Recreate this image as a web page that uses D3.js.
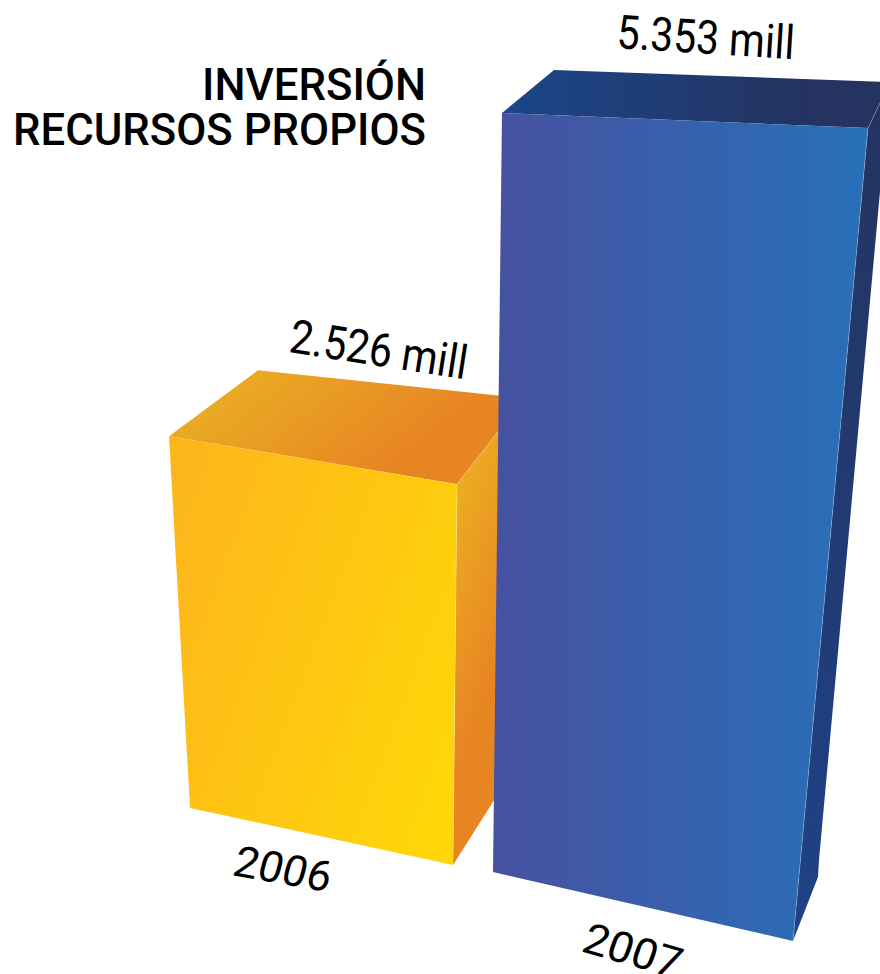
<!DOCTYPE html>
<html>
<head>
<meta charset="utf-8">
<script src="https://cdn.jsdelivr.net/npm/d3@7"></script>
<style>
body { margin: 0; background: #fff; }
svg { display: block; }
text { font-family: Roboto, sans-serif; fill: #000; }
</style>
</head>
<body>
<script>
var years = ["2006", "2007"];
var values = [2526, 5353];
var titleLines = ["INVERSIÓN", "RECURSOS PROPIOS"];

var width = 880, height = 974;

// how far a bar rises, as a share of the full rise in its frame
var rise = d3.scaleLinear().domain([0, 5353]).range([0, 1]);

var es = d3.formatLocale({ decimal: ",", thousands: ".", grouping: [3], currency: ["", ""] });
var fmt = es.format(",d");

// perspective frame of each bar, every bar has its own vanishing lines
var frames = [
    {
        baseL: [190, 808], baseR: [453, 865],
        fullL: [-44.5, -788], fullR: [8.5, -807],
        topDepthL: [89, -66], topDepthR: [67, -86],
        baseDepth: [62, -98], kink: [0, 0],
        front: ["#fdb71b", "#ffd608"], frontDir: [0, 0.25, 1, 0.8],
        top: ["#e9b024", "#e88523"], topDir: [0, 0.3, 0.72, 0.6],
        side: ["#ecb320", "#e88523"], sideDir: [0, 0.12, 0.25, 0.72],
        value: { x: 288, y: 352, angle: 8.8, len: 179, size: 47 },
        year: { x: 231, y: 875, angle: 10, skew: -5, len: 98, size: 43 }
    },
    {
        baseL: [493, 872], baseR: [793, 941],
        fullL: [9, -759], fullR: [75, -813],
        topDepthL: [52, -43], topDepthR: [22, -46],
        baseDepth: [25, -64], kink: [1, -17],
        front: ["#4751a0", "#2870b9"], frontDir: [0, 0, 1, 0],
        top: ["#1b4689", "#24335f"], topDir: [0, 0, 0.8, 0],
        side: ["#24335f", "#1e4287"], sideDir: [0, 0, 0, 1],
        value: { x: 616, y: 48, angle: 3.6, len: 178, size: 47 },
        year: { x: 580, y: 951, angle: 16, skew: -3, len: 100, size: 43 }
    }
];

var svg = d3.select("body").append("svg")
    .attr("width", width)
    .attr("height", height);

var defs = svg.append("defs");

function add(p, d) {
    return [p[0] + d[0], p[1] + d[1]];
}

function makeGradient(id, colors, dir) {
    var g = defs.append("linearGradient")
        .attr("id", id)
        .attr("x1", dir[0]).attr("y1", dir[1])
        .attr("x2", dir[2]).attr("y2", dir[3]);
    g.append("stop").attr("offset", 0).attr("stop-color", colors[0]);
    g.append("stop").attr("offset", 1).attr("stop-color", colors[1]);
}

var line = d3.line().curve(d3.curveLinearClosed);
var seam = d3.line();

function drawBar(i) {
    var f = frames[i];
    var t = rise(values[i]);

    // front corners
    var topL = add(f.baseL, [f.fullL[0] * t, f.fullL[1] * t]);
    var topR = add(f.baseR, [f.fullR[0] * t, f.fullR[1] * t]);
    // back corners
    var backL = add(topL, f.topDepthL);
    var backR = add(topR, f.topDepthR);
    var baseBack = add(f.baseR, f.baseDepth);
    var kink = add(baseBack, f.kink);

    makeGradient("front" + i, f.front, f.frontDir);
    makeGradient("top" + i, f.top, f.topDir);
    makeGradient("side" + i, f.side, f.sideDir);

    svg.append("path")
        .attr("d", line([topR, backR, kink, baseBack, f.baseR]))
        .attr("fill", "url(#side" + i + ")");
    svg.append("path")
        .attr("d", line([topL, backL, backR, topR]))
        .attr("fill", "url(#top" + i + ")");
    svg.append("path")
        .attr("d", line([topL, topR, f.baseR, f.baseL]))
        .attr("fill", "url(#front" + i + ")");

    // faint light edges where the faces meet
    svg.append("path")
        .attr("d", seam([backR, topR, f.baseR]))
        .attr("fill", "none")
        .attr("stroke", "#fff")
        .attr("stroke-opacity", 0.3)
        .attr("stroke-width", 0.8);
}

function drawLabel(str, o, weight) {
    svg.append("text")
        .attr("transform", "translate(" + o.x + "," + o.y + ") rotate(" + o.angle + ") skewX(" + (o.skew || 0) + ")")
        .attr("font-size", o.size)
        .attr("font-weight", weight)
        .attr("textLength", o.len)
        .attr("lengthAdjust", "spacingAndGlyphs")
        .text(str);
}

years.forEach(function(y, i) {
    drawLabel(fmt(values[i]) + " mill", frames[i].value, 400);
    drawBar(i);
    drawLabel(y, frames[i].year, 400);
});

// title
svg.append("text")
    .attr("x", 426).attr("y", 100)
    .attr("text-anchor", "end")
    .attr("font-size", 44.5)
    .attr("font-weight", 500)
    .attr("textLength", 224)
    .attr("lengthAdjust", "spacingAndGlyphs")
    .text(titleLines[0]);
svg.append("text")
    .attr("x", 426).attr("y", 145)
    .attr("text-anchor", "end")
    .attr("font-size", 44.5)
    .attr("font-weight", 500)
    .attr("textLength", 413)
    .attr("lengthAdjust", "spacingAndGlyphs")
    .text(titleLines[1]);
</script>
</body>
</html>
